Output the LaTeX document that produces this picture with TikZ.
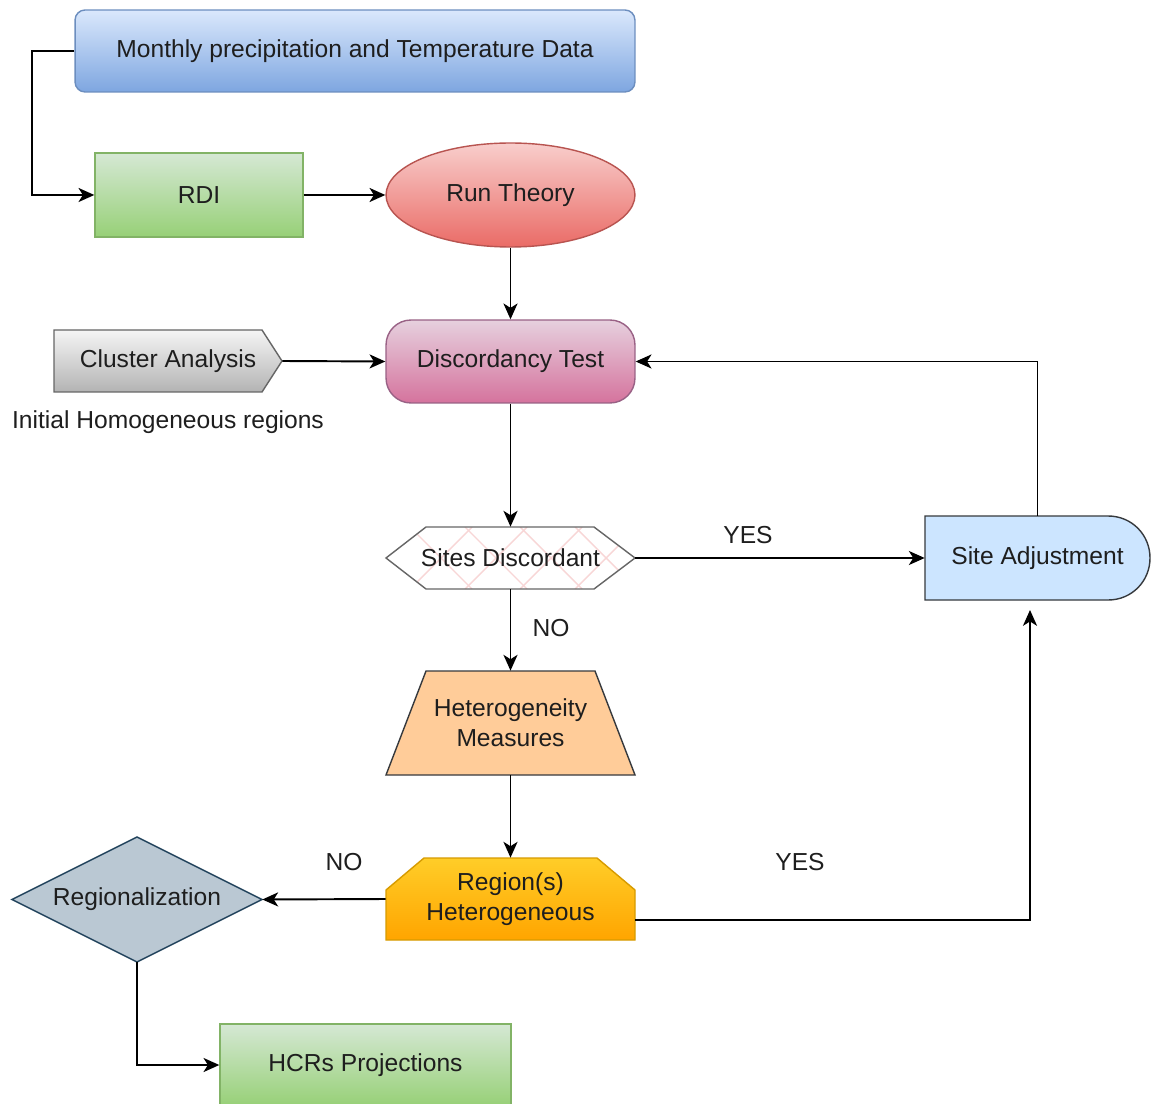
\documentclass[tikz,border=0pt]{standalone}
\usepackage{fontspec}
\setmainfont{Liberation Sans}
\usetikzlibrary{arrows.meta,shapes.geometric}
\definecolor{txt}{HTML}{1E1E1E}
\definecolor{monT}{HTML}{DAE8FC}
\definecolor{monB}{HTML}{7EA6E0}
\definecolor{monD}{HTML}{6C8EBF}
\definecolor{grT}{HTML}{D5E8D4}
\definecolor{grB}{HTML}{97D077}
\definecolor{grD}{HTML}{82B366}
\definecolor{rdT}{HTML}{F8CECC}
\definecolor{rdB}{HTML}{EA6B66}
\definecolor{rdD}{HTML}{B85450}
\definecolor{puT}{HTML}{E6D0DE}
\definecolor{puB}{HTML}{D5739D}
\definecolor{puD}{HTML}{996185}
\definecolor{gyT}{HTML}{F5F5F5}
\definecolor{gyB}{HTML}{B3B3B3}
\definecolor{gyD}{HTML}{666666}
\definecolor{orT}{HTML}{FFCD28}
\definecolor{orB}{HTML}{FFA500}
\definecolor{orD}{HTML}{D79B00}
\definecolor{peach}{HTML}{FFCC99}
\definecolor{dark}{HTML}{36393D}
\definecolor{saF}{HTML}{CCE5FF}
\definecolor{regF}{HTML}{BAC8D3}
\definecolor{regD}{HTML}{23445D}
\definecolor{hatch}{HTML}{F8D6D6}
\begin{document}
\begin{tikzpicture}[x=0.02cm,y=-0.02cm,
  font=\fontsize{14}{17}\selectfont,
  every node/.style={text=txt},
  box/.style={draw, line width=0.8pt, inner sep=0pt, align=center},
  shp/.style={line width=0.8pt},
  txtnode/.style={inner sep=0pt, align=center},
  con/.style={line width=1.1pt, draw=black, -{Stealth[length=9pt,width=8pt,inset=2.5pt]}},
  lbl/.style={inner sep=0pt}]
\useasboundingbox (0,0) rectangle (1152,1104);
\fill[white] (0,0) rectangle (1152,1104);

% nodes
\node[box, rounded corners=0.2cm, draw=monD, top color=monT, bottom color=monB,
      minimum width=11.2cm, minimum height=1.64cm] (mon) at (355,51) {Monthly precipitation and Temperature Data};
\node[box, draw=grD, top color=grT, bottom color=grB,
      minimum width=4.16cm, minimum height=1.68cm] (rdi) at (199,195) {RDI};
\node[box, ellipse, draw=rdD, top color=rdT, bottom color=rdB,
      minimum width=4.98cm, minimum height=2.08cm] (rt) at (510.5,195) {Run Theory};
\node[box, rounded corners=0.5cm, draw=puD, top color=puT, bottom color=puB,
      minimum width=4.98cm, minimum height=1.66cm] (dt) at (510.5,361.5) {Discordancy Test};

% cluster analysis
\draw[shp, draw=gyD, top color=gyT, bottom color=gyB]
  (54,330) -- (262,330) -- (282,361) -- (262,392) -- (54,392) -- cycle;
\node[txtnode, minimum width=4.56cm, minimum height=1.24cm] (ca) at (168,361) {Cluster Analysis};
\node[lbl] (ihr) at (168,422) {Initial Homogeneous regions};

% sites discordant
\begin{scope}
  \clip (386,558) -- (426,527) -- (594,527) -- (635,558) -- (594,589) -- (426,589) -- cycle;
  \fill[white] (380,520) rectangle (640,595);
  \foreach \i in {300,355,...,700} {
    \draw[hatch, line width=0.8pt] (\i,527) -- (\i+62,589);
    \draw[hatch, line width=0.8pt] (\i,589) -- (\i+62,527);
  }
\end{scope}
\draw[shp, draw=gyD] (386,558) -- (426,527) -- (594,527) -- (635,558) -- (594,589) -- (426,589) -- cycle;
\node[txtnode, minimum width=4.98cm, minimum height=1.24cm] (sd) at (510.5,558) {Sites Discordant};

% site adjustment
\draw[shp, draw=dark, fill=saF] (925,516) -- (1108,516)
  .. controls (1132,516) and (1150,535) .. (1150,558)
  .. controls (1150,581) and (1132,600) .. (1108,600) -- (925,600) -- cycle;
\node[txtnode, minimum width=4.5cm, minimum height=1.68cm] (sa) at (1037.5,558) {Site Adjustment};

% heterogeneity measures
\draw[shp, draw=dark, fill=peach] (386,775) -- (426,671) -- (595,671) -- (635,775) -- cycle;
\node[txtnode, minimum width=4.98cm, minimum height=2.08cm] (hm) at (510.5,723) {Heterogeneity\\Measures};

% region(s) heterogeneous
\draw[shp, draw=orD, top color=orT, bottom color=orB]
  (386,940) -- (386,890) -- (424,858) -- (597,858) -- (635,890) -- (635,940) -- cycle;
\node[txtnode, minimum width=4.98cm, minimum height=1.64cm] (rh) at (510.5,899) {Region(s)\\Heterogeneous};

% regionalization
\draw[shp, draw=regD, fill=regF] (12,899.5) -- (137,837) -- (262,899.5) -- (137,962) -- cycle;
\node[txtnode, minimum width=5cm, minimum height=2.5cm] (reg) at (137,899.5) {Regionalization};

% HCRs projections
\node[box, draw=grD, top color=grT, bottom color=grB,
      minimum width=5.82cm, minimum height=1.64cm] (hcr) at (365.5,1065) {HCRs Projections};

% labels
\node[lbl] (yes1) at (748,535) {YES};
\node[lbl] (no1) at (551,628) {NO};
\node[lbl] (no2) at (344,862) {NO};
\node[lbl] (yes2) at (800,862) {YES};

% connectors
\coordinate (rhout) at (635,920);
\coordinate (sain) at (1030,610);
\draw[con] (mon.west) -- ++(-42,0) |- (rdi.west);
\draw[con] (rdi.east) -- (rt.west);
\draw[con] (rt.south) -- (dt.north);
\draw[con] (ca.east) -- (dt.west);
\draw[con] (dt.south) -- (sd.north);
\draw[con] (sd.east) -- (sa.west);
\draw[con] (sa.north) |- (dt.east);
\draw[con] (sd.south) -- (hm.north);
\draw[con] (hm.south) -- (rh.north);
\draw[con] (rh.west) -- (reg.east);
\draw[con] (rhout) -| (sain);
\draw[con] (reg.south) |- (hcr.west);
\end{tikzpicture}
\end{document}
